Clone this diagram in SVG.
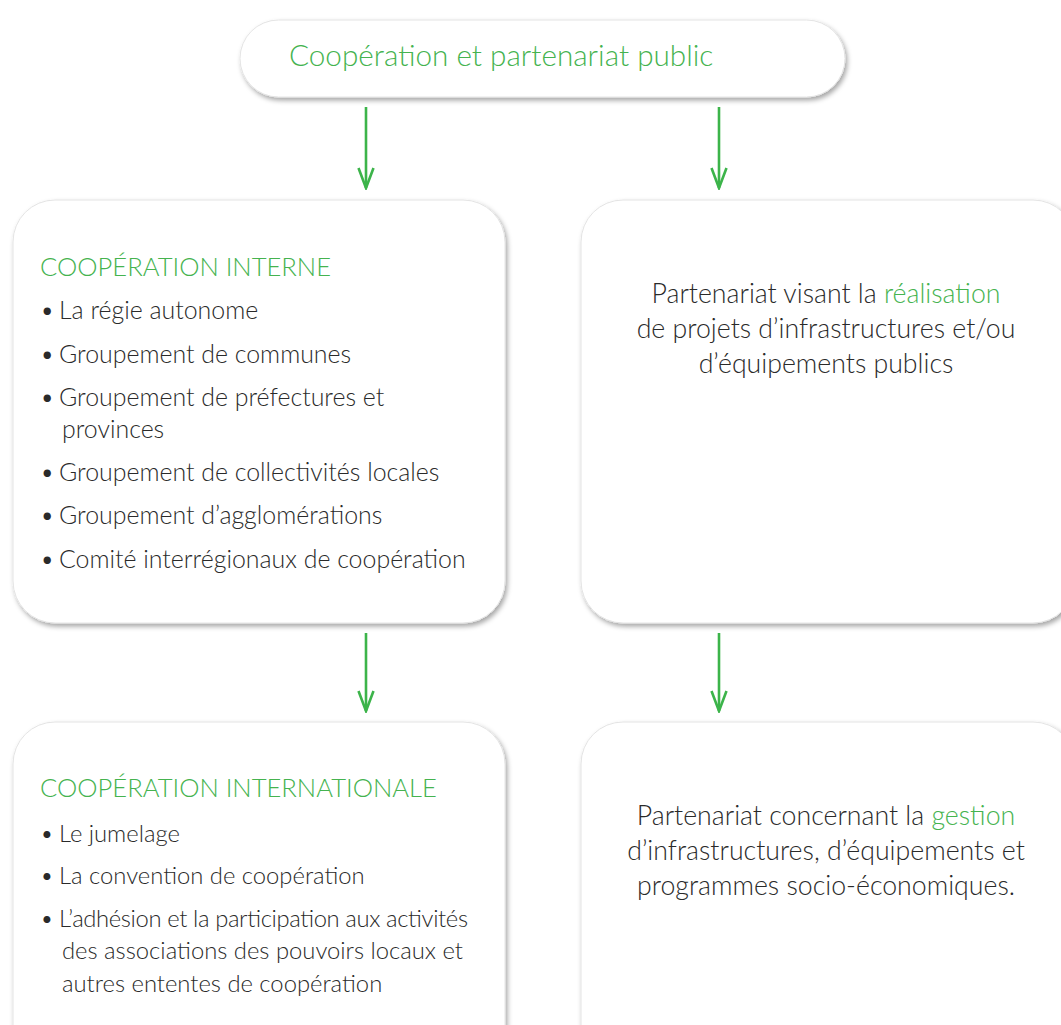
<svg xmlns="http://www.w3.org/2000/svg" width="1061" height="1025" viewBox="0 0 1061 1025">
  <defs>
    <filter id="shadow" x="-10%" y="-10%" width="120%" height="130%">
      <feDropShadow dx="2" dy="3" stdDeviation="2.5" flood-color="#000" flood-opacity="0.35"/>
    </filter>
    <marker id="vhead" viewBox="0 0 24 20" refX="22" refY="10" markerWidth="24" markerHeight="20" markerUnits="userSpaceOnUse" orient="auto">
      <path d="M2,2.5 L22,10 L2,17.5" fill="none" stroke="#3cb44a" stroke-width="2.6" stroke-linejoin="miter"/>
    </marker>
    <style>
      .box { fill: #ffffff; stroke: #e4e4e4; stroke-width: 1; filter: url(#shadow); }
      .t { font-family: Lato, "Liberation Sans", sans-serif; font-weight: 300; fill: #2a2a2a; }
      .g { fill: #45b34f; }
      .title { font-size: 29.7px; }
      .head { font-size: 25.6px; }
      .item { font-size: 24.9px; }
      .item2 { font-size: 23.8px; }
      .para { font-size: 26.7px; text-anchor: middle; }
      .conn line { stroke: #3cb44a; stroke-width: 2.6; marker-end: url(#vhead); }
    </style>
  </defs>

  <rect width="1061" height="1025" fill="#ffffff"/>

  <!-- connectors -->
  <g id="connectors" class="conn">
    <line x1="366" y1="107" x2="366" y2="188"/>
    <line x1="719" y1="107" x2="719" y2="188"/>
    <line x1="366" y1="633" x2="366" y2="711"/>
    <line x1="719" y1="633" x2="719" y2="711"/>
  </g>

  <!-- root -->
  <g id="node-root">
    <rect class="box" x="240" y="20" width="605" height="77" rx="38.5"/>
    <text class="t title g" x="289" y="66">Coopération et partenariat public</text>
  </g>

  <!-- internal cooperation -->
  <g id="node-interne">
    <rect class="box" x="13" y="200" width="492" height="423" rx="42"/>
    <text class="t head g" x="40" y="276">COOPÉRATION INTERNE</text>
    <g class="t item">
      <text x="40" y="319">•</text><text x="59" y="319">La régie autonome</text>
      <text x="40" y="363">•</text><text x="59" y="363">Groupement de communes</text>
      <text x="40" y="406">•</text><text x="59" y="406">Groupement de préfectures et</text>
      <text x="62" y="438">provinces</text>
      <text x="40" y="481">•</text><text x="59" y="481">Groupement de collectivités locales</text>
      <text x="40" y="524">•</text><text x="59" y="524">Groupement d’agglomérations</text>
      <text x="40" y="568">•</text><text x="59" y="568">Comité interrégionaux de coopération</text>
    </g>
  </g>

  <!-- partnership: realisation -->
  <g id="node-realisation">
    <rect class="box" x="581" y="200" width="494" height="423" rx="42"/>
    <g class="t para">
      <text x="826" y="303">Partenariat visant la <tspan class="g">réalisation</tspan></text>
      <text x="826" y="338">de projets d’infrastructures et/ou</text>
      <text x="826" y="373">d’équipements publics</text>
    </g>
  </g>

  <!-- international cooperation -->
  <g id="node-internationale">
    <rect class="box" x="13" y="722" width="492" height="360" rx="42"/>
    <text class="t head g" x="40" y="797">COOPÉRATION INTERNATIONALE</text>
    <g class="t item2">
      <text x="40" y="842">•</text><text x="59" y="842">Le jumelage</text>
      <text x="40" y="884">•</text><text x="59" y="884">La convention de coopération</text>
      <text x="40" y="927">•</text><text x="59" y="927" textLength="409" lengthAdjust="spacing">L’adhésion et la participation aux activités</text>
      <text x="62" y="959">des associations des pouvoirs locaux et</text>
      <text x="62" y="992">autres ententes de coopération</text>
    </g>
  </g>

  <!-- partnership: management -->
  <g id="node-gestion">
    <rect class="box" x="581" y="722" width="494" height="360" rx="42"/>
    <g class="t para">
      <text x="826" y="825">Partenariat concernant la <tspan class="g">gestion</tspan></text>
      <text x="826" y="860">d’infrastructures, d’équipements et</text>
      <text x="826" y="895">programmes socio-économiques.</text>
    </g>
  </g>
</svg>
